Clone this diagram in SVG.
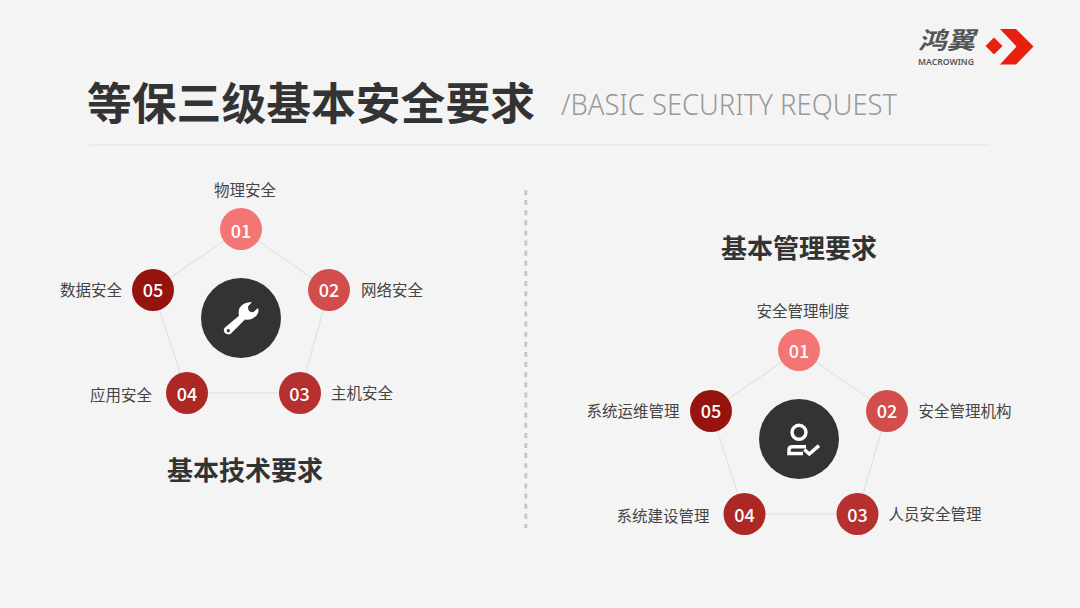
<svg xmlns="http://www.w3.org/2000/svg" width="1080" height="608" viewBox="0 0 1080 608">
<style>
text{font-family:"Noto Sans CJK SC","Noto Sans",sans-serif}
.lb{font-size:15.5px;fill:#444;text-anchor:middle}
.h{font-size:26px;font-weight:700;fill:#333;text-anchor:middle}
.n{font-size:18px;font-weight:500;fill:#fff;text-anchor:middle}
.c1{fill:#f37674}.c2{fill:#d24e4c}.c3{fill:#b5302e}.c4{fill:#ab2825}.c5{fill:#96140f}
.lk{stroke:#e3e3e3;stroke-width:1.3;fill:none}
.hub{fill:#333}
</style>
<rect width="1080" height="608" fill="#f4f4f4"/>
<g id="logo">
<text x="918" y="49" font-size="24" font-weight="700" fill="#555" font-style="italic" textLength="57" lengthAdjust="spacingAndGlyphs">鸿翼</text>
<text x="918" y="64.500" font-size="8.500" font-weight="600" fill="#555" style="font-family:'Noto Sans',sans-serif" textLength="56" lengthAdjust="spacingAndGlyphs">MACROWING</text>
<path d="M994 37.500L1002.500 46 994 54.500 985.500 46Z" fill="#e8200f"/>
<path d="M1000 29H1016L1033.500 46.500 1016 64.500H1000L1016.500 46.500Z" fill="#e8200f"/>
</g>
<g id="title">
<text x="87" y="120" font-size="44.800" font-weight="700" fill="#333">等保三级基本安全要求</text>
<text x="561" y="115" font-size="29" font-weight="300" fill="#999" style="font-family:'Noto Sans',sans-serif" textLength="336" lengthAdjust="spacingAndGlyphs">/BASIC SECURITY REQUEST</text>
<line x1="89" y1="145" x2="990" y2="145" stroke="#e8e8e8" stroke-width="1.500"/>
</g>
<line id="divider" x1="525.800" y1="190" x2="525.800" y2="528" stroke="#c8c8c8" stroke-width="3" stroke-dasharray="5 5.120"/>
<g id="connectors">
<path class="lk" d="M241 229L329 290L300 393H187L153 290Z"/>
<path class="lk" d="M799 350L887 411L857.500 514H744.500L711 411Z"/>
</g>
<g id="left-heading"><text class="h" x="245" y="480">基本技术要求</text></g>
<g id="left-hub"><circle class="hub" cx="241" cy="318" r="40"/>
<path d="M252 302L248 306.500Q248 310 249 311Q251 312.500 253.500 312L258 308Q259.500 312.500 256.500 315.500Q252 320.500 245 319.500L231 333.500Q228 335.500 225 333Q222.500 330 225 327.500L239 315.700Q238 312 239.500 308Q243 302 252 302Z" fill="#fff"/><circle cx="228.300" cy="330.700" r="1.600" fill="#333"/></g>
<g id="left-01"><circle class="c1" cx="241" cy="229" r="21"/><text class="n" x="241" y="238">01</text><text class="lb" x="245" y="196">物理安全</text></g>
<g id="left-02"><circle class="c2" cx="329" cy="290" r="21"/><text class="n" x="329" y="297">02</text><text class="lb" x="392" y="296">网络安全</text></g>
<g id="left-03"><circle class="c3" cx="300" cy="393" r="21"/><text class="n" x="299.500" y="401">03</text><text class="lb" x="362" y="399">主机安全</text></g>
<g id="left-04"><circle class="c4" cx="187" cy="393" r="21"/><text class="n" x="187" y="401">04</text><text class="lb" x="121" y="401">应用安全</text></g>
<g id="left-05"><circle class="c5" cx="153" cy="290" r="21"/><text class="n" x="153" y="297">05</text><text class="lb" x="91" y="296">数据安全</text></g>
<g id="right-heading"><text class="h" x="799" y="258">基本管理要求</text></g>
<g id="right-hub"><circle class="hub" cx="799" cy="439" r="40"/>
<circle cx="799" cy="432.300" r="7" fill="none" stroke="#fff" stroke-width="3.400"/>
<path d="M803 453.500H789V450Q789 446.800 792.500 446.800H806" fill="none" stroke="#fff" stroke-width="3.500"/>
<path d="M804.300 449.500L809.300 454L819 445.700" fill="none" stroke="#fff" stroke-width="3.500"/></g>
<g id="right-01"><circle class="c1" cx="799" cy="350" r="21"/><text class="n" x="799" y="358">01</text><text class="lb" x="803" y="317">安全管理制度</text></g>
<g id="right-02"><circle class="c2" cx="887" cy="411" r="21"/><text class="n" x="887" y="418">02</text><text class="lb" x="965" y="417">安全管理机构</text></g>
<g id="right-03"><circle class="c3" cx="857.500" cy="514" r="21"/><text class="n" x="857.500" y="522">03</text><text class="lb" x="935" y="520">人员安全管理</text></g>
<g id="right-04"><circle class="c4" cx="744.500" cy="514" r="21"/><text class="n" x="744.500" y="522">04</text><text class="lb" x="663" y="522">系统建设管理</text></g>
<g id="right-05"><circle class="c5" cx="711" cy="411" r="21"/><text class="n" x="711" y="418">05</text><text class="lb" x="633" y="417">系统运维管理</text></g>
</svg>
